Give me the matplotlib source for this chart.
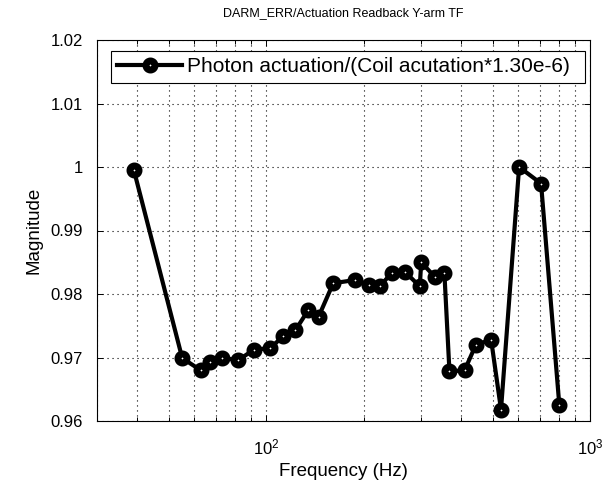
import matplotlib
matplotlib.use("Agg")
import matplotlib.pyplot as plt
from matplotlib.ticker import FixedLocator, FuncFormatter, LogLocator, NullFormatter

plt.rcParams['font.family'] = ['Liberation Sans', 'DejaVu Sans']
plt.rcParams['mathtext.fontset'] = 'custom'
plt.rcParams['mathtext.rm'] = 'Liberation Sans'
plt.rcParams['mathtext.default'] = 'regular'

# Transfer-function magnitude vs frequency
freq_hz = [39, 55, 62.7, 67.2, 73, 82, 91.4, 103, 113, 123, 135, 145, 161, 188,
           207, 224, 244, 268, 298, 301, 333, 355, 368, 410, 444, 495, 531, 604,
           706, 804]
magnitude = [0.9995, 0.9699, 0.9680, 0.9693, 0.9699, 0.9696, 0.9712, 0.9715,
             0.9734, 0.9743, 0.9775, 0.9764, 0.9817, 0.9822, 0.9814, 0.9812,
             0.9833, 0.9835, 0.9812, 0.9850, 0.9826, 0.9833, 0.9678, 0.9680,
             0.9720, 0.9728, 0.9618, 1.0000, 0.9974, 0.9625]
y_ticks = [0.96, 0.97, 0.98, 0.99, 1.00, 1.01, 1.02]
series_label = "Photon actuation/(Coil acutation*1.30e-6)"

fig = plt.figure(figsize=(6.08, 4.87), dpi=100)
ax = fig.add_axes([97 / 608, 66 / 487, 493 / 608, 381 / 487])

ax.semilogx(freq_hz, magnitude, color='black', linewidth=3.0, marker='o',
            markersize=6.5, markeredgewidth=5.0, markerfacecolor='white',
            markeredgecolor='black', label=series_label, zorder=3)

ax.set_xlim(30, 1000)
ax.set_ylim(0.96, 1.02)

ax.xaxis.set_major_locator(LogLocator(base=10, numticks=10))
ax.xaxis.set_minor_locator(LogLocator(base=10, subs=range(2, 10), numticks=20))
ax.xaxis.set_minor_formatter(NullFormatter())
ax.yaxis.set_major_locator(FixedLocator(y_ticks))
ax.yaxis.set_major_formatter(FuncFormatter(lambda v, p: f"{v:g}"))

grid_style = dict(color='black', linestyle=(0, (1, 3.5)), linewidth=0.8)
ax.grid(True, which='major', axis='both', **grid_style)
ax.grid(True, which='minor', axis='x', **grid_style)

ax.tick_params(which='both', direction='in', top=True, right=True,
               labelsize=12, colors='black', width=0.7)
ax.tick_params(which='major', length=4)
ax.tick_params(which='minor', length=3)
ax.tick_params(axis='x', pad=12)
ax.tick_params(axis='y', pad=10)
for s in ax.spines.values():
    s.set_linewidth(0.8)
    s.set_color('black')

ax.set_title("DARM_ERR/Actuation Readback Y-arm TF", fontsize=9, pad=17)
ax.set_xlabel("Frequency (Hz)", fontsize=13.5, labelpad=4)
ax.set_ylabel("Magnitude", fontsize=13.5, labelpad=6)

leg = ax.legend(loc='upper left', bbox_to_anchor=(0.0284, 0.887, 0.9615, 0.084),
                mode='expand', borderaxespad=0, fontsize=15, handlelength=3.1,
                handletextpad=0.25, fancybox=False, framealpha=1,
                edgecolor='black', borderpad=0.3)
leg.get_frame().set_linewidth(0.8)

fig.savefig("out.png", dpi=100)
